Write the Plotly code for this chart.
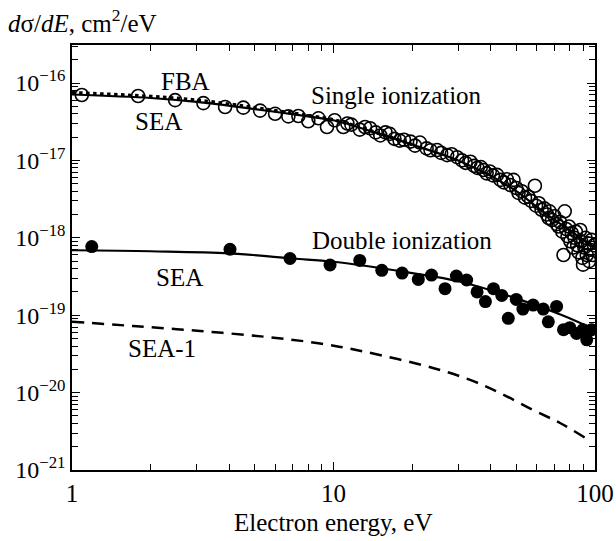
import plotly.graph_objects as go

# ---- data ----
sea_single_E = [1, 2, 3, 5, 8, 10, 15, 20, 30, 40, 50, 60, 70, 80, 90, 100]
sea_single_s = [7.1e-17, 6.4e-17, 5.7e-17, 4.6e-17, 3.7e-17, 3.3e-17, 2.2e-17, 1.6e-17,
                1.0e-17, 6.3e-18, 4.0e-18, 2.5e-18, 1.7e-18, 1.25e-18, 9.5e-19, 7.5e-19]

fba_E = [1, 2, 3, 5, 8, 10, 15, 20]
fba_s = [7.5e-17, 6.7e-17, 6.0e-17, 4.8e-17, 3.8e-17, 3.35e-17, 2.22e-17, 1.6e-17]

sea_double_E = [1, 2, 4, 7, 10, 20, 30, 50, 75, 100]
sea_double_s = [6.9e-19, 6.7e-19, 6.3e-19, 5.4e-19, 4.9e-19, 3.5e-19, 2.75e-19, 1.65e-19,
                1.0e-19, 6.5e-20]

sea1_E = [1, 1.71, 3.09, 5.57, 8.88, 13.3, 24.0, 33.3, 43.3, 57.9, 73.5, 91.5]
sea1_s = [8.24e-20, 7.25e-20, 6.25e-20, 5.23e-20, 4.31e-20, 3.35e-20, 2.08e-20, 1.46e-20,
          9.9e-21, 5.96e-21, 4.05e-21, 2.62e-21]

single_E = [1.09, 1.79, 2.48, 3.18, 3.85, 4.52, 5.24, 5.98, 6.72, 7.34, 8.01, 8.76, 9.44,
            10.1, 10.9, 11.3, 11.7, 12.6, 13.2, 13.8, 14.5, 15.1, 15.8, 16.4, 17.1, 17.9,
            18.6, 19.7, 20.5, 21.4, 22.7, 23.5, 24.9, 25.8, 27.2, 28.3, 29.7, 31.0, 32.0,
            33.4, 34.5, 35.5, 36.6, 37.5, 38.5, 39.6, 40.7, 42.2, 43.5, 44.8, 46.0, 47.5,
            48.8, 50.0, 51.0, 52.5, 54.0, 55.6, 57.0, 58.9, 59.5, 61.0, 62.5, 64.0, 65.5,
            66.5, 67.0, 68.5, 70.0, 71.5, 72.5, 73.5, 75.0, 75.8, 76.6, 77.5, 78.5, 79.5,
            80.5, 81.5, 82.5, 83.5, 84.5, 85.5, 86.5, 87.8, 88.5, 89.5, 90.0, 91.0, 92.0,
            93.0, 94.0, 95.0, 96.0, 97.0, 98.0, 99.0]
single_s = [7.0e-17, 6.8e-17, 6.0e-17, 5.5e-17, 4.9e-17, 4.8e-17, 4.4e-17, 4.0e-17, 3.7e-17,
            3.75e-17, 3.2e-17, 3.5e-17, 2.7e-17, 3.3e-17, 2.7e-17, 3.0e-17, 2.9e-17, 2.5e-17,
            2.7e-17, 2.6e-17, 2.3e-17, 2.1e-17, 2.3e-17, 2.2e-17, 1.9e-17, 1.8e-17, 1.85e-17,
            1.75e-17, 1.55e-17, 1.7e-17, 1.43e-17, 1.35e-17, 1.36e-17, 1.25e-17, 1.17e-17,
            1.2e-17, 1.1e-17, 1.0e-17, 9.3e-18, 9.6e-18, 8.5e-18, 8.0e-18, 8.2e-18, 7.5e-18,
            6.8e-18, 7.2e-18, 6.4e-18, 6.5e-18, 5.6e-18, 5.2e-18, 5.7e-18, 4.8e-18, 5.6e-18,
            4.4e-18, 3.8e-18, 4.0e-18, 3.3e-18, 3.4e-18, 3.0e-18, 4.7e-18, 2.6e-18, 2.8e-18,
            2.3e-18, 2.4e-18, 2.0e-18, 1.8e-18, 2.2e-18, 1.7e-18, 1.9e-18, 1.5e-18, 1.4e-18,
            1.6e-18, 1.2e-18, 6.0e-19, 2.2e-18, 1.3e-18, 1.05e-18, 1.4e-18, 9.0e-19, 1.15e-18,
            7.5e-19, 1.0e-18, 1.2e-18, 8.0e-19, 6.5e-19, 1.26e-18, 9.0e-19, 5.5e-19, 4.5e-19,
            7.5e-19, 1.0e-18, 6.0e-19, 8.5e-19, 5.0e-19, 7.0e-19, 9.4e-19, 6.0e-19, 8.0e-19]

double_E = [1.19, 4.02, 6.82, 9.7, 12.6, 15.3, 18.3, 21.1, 23.7, 26.7, 29.5, 32.3, 35.4,
            38.1, 40.9, 44.0, 46.6, 50.0, 53.0, 58.0, 63.4, 66.3, 71.3, 75.8, 80.1, 85.0,
            90.0, 93.0, 97.0]
double_s = [7.7e-19, 7.1e-19, 5.4e-19, 4.45e-19, 5.1e-19, 3.8e-19, 3.5e-19, 2.9e-19, 3.3e-19,
            2.2e-19, 3.2e-19, 2.85e-19, 2.0e-19, 1.5e-19, 2.2e-19, 1.8e-19, 9.1e-20, 1.6e-19,
            1.2e-19, 1.35e-19, 1.2e-19, 8.2e-20, 1.3e-19, 6.5e-20, 6.9e-20, 5.8e-20, 6.5e-20,
            4.8e-20, 6.5e-20]

y_tick_vals = [1e-21, 1e-20, 1e-19, 1e-18, 1e-17, 1e-16]
y_tick_text = ["10<sup>−21</sup>", "10<sup>−20</sup>", "10<sup>−19</sup>",
               "10<sup>−18</sup>", "10<sup>−17</sup>", "10<sup>−16</sup>"]
x_tick_vals = [1, 10, 100]
x_tick_text = ["1", "10", "100"]

FONT = "Liberation Serif"
L, R, T, B = 72, 595, 45, 470

fig = go.Figure()

fig.add_trace(go.Scatter(x=single_E, y=single_s, mode="markers",
                         marker=dict(symbol="circle-open", size=13, color="black",
                                     line=dict(width=1.6, color="black")),
                         showlegend=False))
fig.add_trace(go.Scatter(x=double_E, y=double_s, mode="markers",
                         marker=dict(symbol="circle", size=13, color="black"),
                         showlegend=False))
fig.add_trace(go.Scatter(x=fba_E, y=fba_s, mode="lines", line_shape="spline",
                         line=dict(color="black", width=3.5, dash="dot"),
                         showlegend=False))
fig.add_trace(go.Scatter(x=sea_single_E, y=sea_single_s, mode="lines", line_shape="spline",
                         line=dict(color="black", width=2.2), showlegend=False))
fig.add_trace(go.Scatter(x=sea_double_E, y=sea_double_s, mode="lines", line_shape="spline",
                         line=dict(color="black", width=2.2), showlegend=False))
fig.add_trace(go.Scatter(x=sea1_E, y=sea1_s, mode="lines", line_shape="spline",
                         line=dict(color="black", width=2.5, dash="12px,8px"),
                         showlegend=False))

axis_common = dict(type="log", showline=True, linecolor="black", linewidth=1.5,
                   mirror="ticks", ticks="inside", ticklen=8, tickwidth=1.2,
                   tickcolor="black", showgrid=False, zeroline=False, automargin=False,
                   minor=dict(ticks="inside", ticklen=6, tickwidth=1.2, tickcolor="black",
                              dtick="D1", showgrid=False))

fig.update_xaxes(range=[0, 2], tickvals=x_tick_vals, ticktext=x_tick_text,
                 tickfont=dict(family=FONT, size=25, color="black"), **axis_common)
fig.update_yaxes(range=[-21, -15.509], tickvals=y_tick_vals, ticktext=y_tick_text,
                 tickfont=dict(family=FONT, size=24, color="black"), **axis_common)


def px(xp):
    return (xp - L) / (R - L)


def py(yp):
    return (B - yp) / (B - T)


def label(text, x, y, size=25, anchor="center"):
    fig.add_annotation(x=px(x), y=py(y), xref="paper", yref="paper", text=text,
                       showarrow=False, xanchor=anchor, yanchor="middle",
                       font=dict(family=FONT, size=size, color="black"))


label("FBA", 185, 81)
label("SEA", 158, 122)
label("Single ionization", 396, 95)
label("Double ionization", 402, 240)
label("SEA", 179, 277)
label("SEA-1", 162, 348)
label("Electron energy, eV", 333, 522)
label("<i>d</i>σ/<i>dE</i>, cm<sup>2</sup>/eV", 6, 21, anchor="left")

fig.update_layout(width=616, height=541, margin=dict(l=L, r=616 - R, t=T, b=541 - B),
                  plot_bgcolor="white", paper_bgcolor="white",
                  font=dict(family=FONT, color="black"))

fig.write_html("out.html")
